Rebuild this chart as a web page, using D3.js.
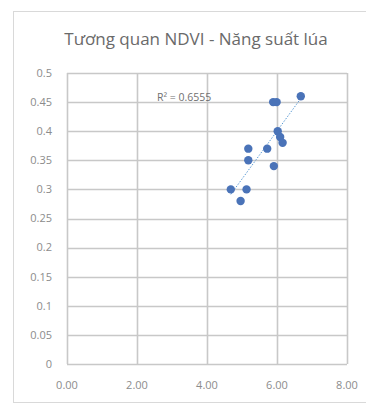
<!DOCTYPE html>
<html><head><meta charset="utf-8">
<script src="https://cdn.jsdelivr.net/npm/d3@7"></script>
<style>body{margin:0;background:#fff;}svg{display:block;font-family:"Open Sans","Liberation Sans",sans-serif;}</style>
</head><body>
<svg id="c" width="366" height="405"></svg>
<script>
const title = "Tương quan NDVI - Năng suất lúa";
const xValues = [6.68, 5.89, 5.99, 6.02, 6.09, 6.16, 5.72, 5.18, 5.18, 5.91, 4.68, 5.13, 4.96];
const yValues = [0.46, 0.45, 0.45, 0.40, 0.39, 0.38, 0.37, 0.37, 0.35, 0.34, 0.30, 0.30, 0.28];
const xTicks = [0, 2, 4, 6, 8];
const yTicks = [0, 0.05, 0.1, 0.15, 0.2, 0.25, 0.3, 0.35, 0.4, 0.45, 0.5];
const yTickLabels = ["0", "0.05", "0.1", "0.15", "0.2", "0.25", "0.3", "0.35", "0.4", "0.45", "0.5"];
const r2Label = "R² = 0.6555";

const svg = d3.select("#c");
svg.append("rect").attr("x",13.5).attr("y",11.5).attr("width",360).attr("height",391)
  .attr("fill","#fff").attr("stroke","#d9d9d9");

const x = d3.scaleLinear().domain([0,8]).range([67,347]);
const y = d3.scaleLinear().domain([0,0.5]).range([364,73]);

const grid = svg.append("g");
grid.selectAll("line.h").data(yTicks).join("line").attr("class","h")
  .attr("x1",x(0)).attr("x2",x(8)).attr("y1",d=>Math.round(y(d))+0.5).attr("y2",d=>Math.round(y(d))+0.5)
  .attr("stroke","#c8c8c8").attr("stroke-width",1.6);
grid.selectAll("line.v").data(xTicks).join("line").attr("class","v")
  .attr("y1",y(0)).attr("y2",y(0.5)).attr("x1",d=>Math.round(x(d))+0.5).attr("x2",d=>Math.round(x(d))+0.5)
  .attr("stroke","#c8c8c8").attr("stroke-width",1.6);

// axes labels
svg.append("g").selectAll("text").data(yTicks).join("text")
  .attr("x",52).attr("y",d=>y(d)).attr("dy","0.35em").attr("text-anchor","end")
  .attr("font-size",11).attr("fill","#8c8c8c").text((d,i)=>yTickLabels[i]);
svg.append("g").selectAll("text").data(xTicks).join("text")
  .attr("x",d=>x(d)).attr("y",385).attr("dy","0.35em").attr("text-anchor","middle")
  .attr("font-size",11).attr("fill","#8c8c8c").text(d=>d3.format(".2f")(d));

// title
svg.append("text").attr("x",196).attr("y",45).attr("text-anchor","middle")
  .attr("font-size",17).attr("fill","#6a6a6a").text(title);

// trendline (least squares)
const n = xValues.length;
const mx = d3.mean(xValues), my = d3.mean(yValues);
let sxy=0, sxx=0;
for(let i=0;i<n;i++){sxy+=(xValues[i]-mx)*(yValues[i]-my);sxx+=(xValues[i]-mx)**2;}
const slope = sxy/sxx, icpt = my - slope*mx;
const x0 = d3.min(xValues), x1 = d3.max(xValues);
svg.append("line").attr("x1",x(x0)).attr("y1",y(icpt+slope*x0)).attr("x2",x(x1)).attr("y2",y(icpt+slope*x1))
  .attr("stroke","#5b9bd5").attr("stroke-width",1).attr("stroke-dasharray","1.5,1.5");

// points
svg.append("g").selectAll("circle").data(xValues).join("circle")
  .attr("cx",(d)=>x(d)).attr("cy",(d,i)=>y(yValues[i])).attr("r",4.2)
  .attr("fill","#4a73b8");

// R2 label
svg.append("text").attr("x",157).attr("y",97).attr("dy","0.35em").attr("font-size",10.5)
  .attr("fill","#707070").text(r2Label);
</script>
</body></html>
